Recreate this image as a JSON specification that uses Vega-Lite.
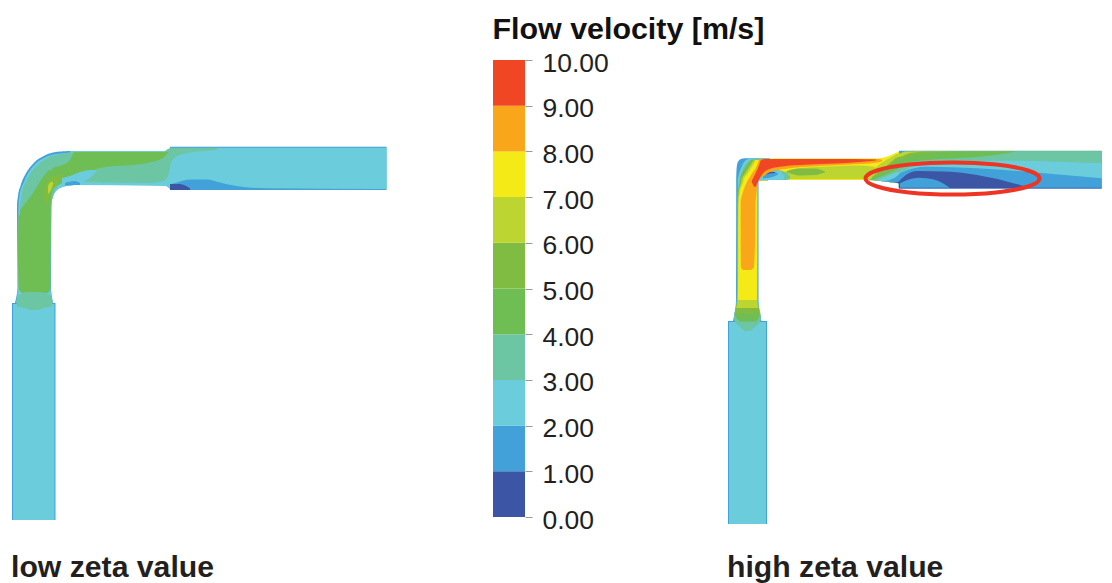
{"$schema":"https://vega.github.io/schema/vega-lite/v6.json","width":1112,"height":583,"autosize":{"type":"none"},"padding":0,"background":"white","config":{"view":{"stroke":null},"font":"Liberation Sans"},
"datasets":{
"vBase":[
{"r":"Li1","b":1,"y":303,"x":12,"x2":55.5},{"r":"Li1","b":1,"y":520,"x":12,"x2":55.5},
{"r":"Li2","b":2,"y":304,"x":13,"x2":54.5},{"r":"Li2","b":2,"y":520,"x":13,"x2":54.5},
{"r":"Lb1","b":1,"y":151,"x":70,"x2":80},{"r":"Lb1","b":1,"y":152,"x":56,"x2":80},{"r":"Lb1","b":1,"y":157,"x":42,"x2":80},{"r":"Lb1","b":1,"y":165,"x":32,"x2":80},{"r":"Lb1","b":1,"y":175,"x":25,"x2":80},{"r":"Lb1","b":1,"y":184,"x":21,"x2":80},{"r":"Lb1","b":1,"y":186,"x":20.5,"x2":66},{"r":"Lb1","b":1,"y":190,"x":19,"x2":57},{"r":"Lb1","b":1,"y":196,"x":18,"x2":53},{"r":"Lb1","b":1,"y":205,"x":17,"x2":51.5},{"r":"Lb1","b":1,"y":287,"x":17.5,"x2":51},{"r":"Lb1","b":1,"y":303,"x":15,"x2":53},
{"r":"Lb2","b":2,"y":152.5,"x":70,"x2":80},{"r":"Lb2","b":2,"y":154,"x":56,"x2":80},{"r":"Lb2","b":2,"y":158.5,"x":43,"x2":80},{"r":"Lb2","b":2,"y":166,"x":33.5,"x2":80},{"r":"Lb2","b":2,"y":176,"x":26.5,"x2":80},{"r":"Lb2","b":2,"y":184,"x":23,"x2":80},{"r":"Lb2","b":2,"y":186,"x":22,"x2":66},{"r":"Lb2","b":2,"y":190,"x":20.5,"x2":57},{"r":"Lb2","b":2,"y":196,"x":19.5,"x2":53},{"r":"Lb2","b":2,"y":205,"x":18.5,"x2":51},{"r":"Lb2","b":2,"y":287,"x":18,"x2":50.5},{"r":"Lb2","b":2,"y":303,"x":16,"x2":52.5},
{"r":"Hi1","b":1,"y":321,"x":728,"x2":767},{"r":"Hi1","b":1,"y":524,"x":728,"x2":767},
{"r":"Hi2","b":2,"y":322,"x":729,"x2":766},{"r":"Hi2","b":2,"y":524,"x":729,"x2":766},
{"r":"Hb1","b":1,"y":158.3,"x":745,"x2":770},{"r":"Hb1","b":1,"y":159,"x":741,"x2":770},{"r":"Hb1","b":1,"y":161,"x":738.5,"x2":770},{"r":"Hb1","b":1,"y":165,"x":737,"x2":770},{"r":"Hb1","b":1,"y":170,"x":736.5,"x2":770},{"r":"Hb1","b":1,"y":180,"x":736.2,"x2":770},{"r":"Hb1","b":1,"y":180.5,"x":736.2,"x2":758.5},{"r":"Hb1","b":1,"y":300,"x":736,"x2":758.5},{"r":"Hb1","b":1,"y":321,"x":733,"x2":761.5},
{"r":"Hb2","b":2,"y":158.5,"x":750,"x2":770},{"r":"Hb2","b":2,"y":160,"x":746,"x2":770},{"r":"Hb2","b":2,"y":166.7,"x":741.7,"x2":770},{"r":"Hb2","b":2,"y":176.7,"x":738.3,"x2":770},{"r":"Hb2","b":2,"y":180,"x":737.8,"x2":770},{"r":"Hb2","b":2,"y":180.5,"x":737.8,"x2":758},{"r":"Hb2","b":2,"y":300,"x":736.7,"x2":758},{"r":"Hb2","b":2,"y":320,"x":733.5,"x2":761}
],
"hBase":[
{"r":"Ln","b":2,"x":70,"y":151,"y2":185},{"r":"Ln","b":2,"x":165,"y":151,"y2":186},{"r":"Ln","b":2,"x":170,"y":148,"y2":189},
{"r":"LP1","b":1,"x":170,"y":146.7,"y2":190},{"r":"LP1","b":1,"x":386.5,"y":146.7,"y2":190},
{"r":"LP2","b":2,"x":170,"y":147.8,"y2":189},{"r":"LP2","b":2,"x":386.5,"y":147.8,"y2":189.3},
{"r":"Hn","b":7,"x":769,"y":158.5,"y2":180},{"r":"Hn","b":7,"x":873,"y":158.5,"y2":180},{"r":"Hn","b":7,"x":877,"y":158.5,"y2":180.5},{"r":"Hn","b":7,"x":899,"y":151.6,"y2":183.3},
{"r":"HP1","b":1,"x":899,"y":150.7,"y2":188.6},{"r":"HP1","b":1,"x":1101.7,"y":150.7,"y2":188.6}
],
"vOver":[
{"r":"Lg","b":4,"y":215,"x":18.5,"x2":50.5},{"r":"Lg","b":4,"y":250,"x":18,"x2":50.5},{"r":"Lg","b":4,"y":287,"x":18.5,"x2":50.5},{"r":"Lg","b":4,"y":290,"x":19,"x2":50},{"r":"Lg","b":4,"y":293,"x":22,"x2":48},
{"r":"Lt","b":3,"y":292,"x":26,"x2":42},{"r":"Lt","b":3,"y":296,"x":18,"x2":51},{"r":"Lt","b":3,"y":303,"x":16.5,"x2":52.5},{"r":"Lt","b":3,"y":306,"x":17,"x2":52},{"r":"Lt","b":3,"y":308,"x":24,"x2":44},{"r":"Lt","b":3,"y":310,"x":30,"x2":38},
{"r":"Hv3","b":3,"y":158.6,"x":756,"x2":770},{"r":"Hv3","b":3,"y":160,"x":750,"x2":770},{"r":"Hv3","b":3,"y":173,"x":741.5,"x2":770},{"r":"Hv3","b":3,"y":180,"x":739.5,"x2":770},{"r":"Hv3","b":3,"y":180.5,"x":739.5,"x2":757.8},{"r":"Hv3","b":3,"y":190,"x":738,"x2":757.8},{"r":"Hv3","b":3,"y":205,"x":737.3,"x2":757.8},{"r":"Hv3","b":3,"y":300,"x":737,"x2":757.8},{"r":"Hv3","b":3,"y":318,"x":734,"x2":761},{"r":"Hv3","b":3,"y":321,"x":734.5,"x2":760.5},{"r":"Hv3","b":3,"y":326,"x":739,"x2":756},{"r":"Hv3","b":3,"y":331,"x":745,"x2":750},
{"r":"Hv4","b":4,"y":160,"x":751,"x2":770},{"r":"Hv4","b":4,"y":173,"x":742.2,"x2":770},{"r":"Hv4","b":4,"y":180,"x":740,"x2":770},{"r":"Hv4","b":4,"y":180.5,"x":740,"x2":757.6},{"r":"Hv4","b":4,"y":190,"x":738.3,"x2":757.6},{"r":"Hv4","b":4,"y":205,"x":737.5,"x2":757.6},{"r":"Hv4","b":4,"y":300,"x":737.2,"x2":757.6},{"r":"Hv4","b":4,"y":315,"x":735,"x2":759.5},{"r":"Hv4","b":4,"y":321.5,"x":740,"x2":756},
{"r":"Hv5","b":5,"y":160,"x":752,"x2":770},{"r":"Hv5","b":5,"y":173,"x":743,"x2":770},{"r":"Hv5","b":5,"y":180,"x":740.5,"x2":770},{"r":"Hv5","b":5,"y":180.5,"x":740.5,"x2":757.5},{"r":"Hv5","b":5,"y":190,"x":738.5,"x2":757.5},{"r":"Hv5","b":5,"y":205,"x":737.7,"x2":757.5},{"r":"Hv5","b":5,"y":300,"x":737.4,"x2":757.4},{"r":"Hv5","b":5,"y":308,"x":736,"x2":758.5},{"r":"Hv5","b":5,"y":314,"x":735,"x2":759.5},
{"r":"Hv6","b":6,"y":160,"x":754,"x2":770},{"r":"Hv6","b":6,"y":173,"x":745.5,"x2":770},{"r":"Hv6","b":6,"y":180,"x":741.5,"x2":770},{"r":"Hv6","b":6,"y":180.5,"x":741.5,"x2":757.3},{"r":"Hv6","b":6,"y":190,"x":739,"x2":757.3},{"r":"Hv6","b":6,"y":205,"x":738,"x2":757.3},{"r":"Hv6","b":6,"y":300,"x":737.5,"x2":757.3},{"r":"Hv6","b":6,"y":308,"x":736.3,"x2":758.3},
{"r":"Hv7","b":7,"y":160,"x":756,"x2":770},{"r":"Hv7","b":7,"y":173,"x":748,"x2":770},{"r":"Hv7","b":7,"y":180,"x":743.5,"x2":770},{"r":"Hv7","b":7,"y":180.5,"x":743.5,"x2":757.2},{"r":"Hv7","b":7,"y":190,"x":740,"x2":757.2},{"r":"Hv7","b":7,"y":205,"x":738.5,"x2":757.2},{"r":"Hv7","b":7,"y":290,"x":738,"x2":757},{"r":"Hv7","b":7,"y":300,"x":737.8,"x2":756.8},
{"r":"Hv8","b":8,"y":159,"x":759,"x2":770},{"r":"Hv8","b":8,"y":170,"x":754.5,"x2":770},{"r":"Hv8","b":8,"y":172,"x":753,"x2":765},{"r":"Hv8","b":8,"y":176,"x":750.5,"x2":761},{"r":"Hv8","b":8,"y":180,"x":748,"x2":758.5},{"r":"Hv8","b":8,"y":192,"x":743,"x2":756.5},{"r":"Hv8","b":8,"y":203,"x":740.7,"x2":755.5},{"r":"Hv8","b":8,"y":240,"x":740.7,"x2":755},{"r":"Hv8","b":8,"y":267,"x":741,"x2":754},{"r":"Hv8","b":8,"y":270,"x":743,"x2":751}
],
"hOver":[
{"r":"Lte","b":3,"x":20,"y":208,"y2":208},{"r":"Lte","b":3,"x":22,"y":193,"y2":220},{"r":"Lte","b":3,"x":27,"y":180,"y2":220},{"r":"Lte","b":3,"x":40,"y":163,"y2":225},{"r":"Lte","b":3,"x":50,"y":157,"y2":205},{"r":"Lte","b":3,"x":56.7,"y":155,"y2":188},{"r":"Lte","b":3,"x":66,"y":153,"y2":180},{"r":"Lte","b":3,"x":75,"y":152,"y2":165},
{"r":"Lth","b":3,"x":75,"y":170,"y2":180},{"r":"Lth","b":3,"x":90,"y":165,"y2":182},{"r":"Lth","b":3,"x":147,"y":155,"y2":183},{"r":"Lth","b":3,"x":160,"y":155,"y2":182},{"r":"Lth","b":3,"x":165,"y":151,"y2":180},{"r":"Lth","b":3,"x":168,"y":149,"y2":176},{"r":"Lth","b":3,"x":172,"y":148,"y2":160},{"r":"Lth","b":3,"x":187,"y":148,"y2":153},{"r":"Lth","b":3,"x":217,"y":148,"y2":150},
{"r":"Lgr","b":4,"x":20,"y":210,"y2":250},{"r":"Lgr","b":4,"x":33,"y":193,"y2":250},{"r":"Lgr","b":4,"x":43,"y":177,"y2":250},{"r":"Lgr","b":4,"x":50.5,"y":170,"y2":250},{"r":"Lgr","b":4,"x":51,"y":170,"y2":200},{"r":"Lgr","b":4,"x":53,"y":168,"y2":189},{"r":"Lgr","b":4,"x":60,"y":166,"y2":184},{"r":"Lgr","b":4,"x":70,"y":160,"y2":179},{"r":"Lgr","b":4,"x":75,"y":152,"y2":177},{"r":"Lgr","b":4,"x":90,"y":152,"y2":172},{"r":"Lgr","b":4,"x":100,"y":152,"y2":168},{"r":"Lgr","b":4,"x":147,"y":152,"y2":163},{"r":"Lgr","b":4,"x":163,"y":152,"y2":158},{"r":"Lgr","b":4,"x":168,"y":152,"y2":153},
{"r":"Lp5","b":5,"x":44,"y":190,"y2":200},{"r":"Lp5","b":5,"x":47,"y":182,"y2":203},{"r":"Lp5","b":5,"x":52,"y":177,"y2":190},{"r":"Lp5","b":5,"x":58,"y":175,"y2":183},{"r":"Lp5","b":5,"x":63,"y":175,"y2":177},
{"r":"Lp6","b":6,"x":48,"y":186,"y2":194},{"r":"Lp6","b":6,"x":51,"y":182,"y2":190},{"r":"Lp6","b":6,"x":53,"y":182,"y2":184},
{"r":"Lc","b":2,"x":62,"y":178,"y2":185},{"r":"Lc","b":2,"x":70,"y":176,"y2":185},{"r":"Lc","b":2,"x":80,"y":172,"y2":183},{"r":"Lc","b":2,"x":90,"y":170,"y2":178},{"r":"Lc","b":2,"x":96,"y":170,"y2":172},
{"r":"Ls","b":1,"x":65,"y":183,"y2":185.5},{"r":"Ls","b":1,"x":75,"y":181,"y2":185},{"r":"Ls","b":1,"x":80,"y":183,"y2":185},
{"r":"Lbl","b":1,"x":170,"y":184.5,"y2":189},{"r":"Lbl","b":1,"x":180,"y":181.5,"y2":189},{"r":"Lbl","b":1,"x":190,"y":179.5,"y2":189},{"r":"Lbl","b":1,"x":207,"y":179.5,"y2":189},{"r":"Lbl","b":1,"x":217,"y":181.7,"y2":189},{"r":"Lbl","b":1,"x":227,"y":184.3,"y2":189},{"r":"Lbl","b":1,"x":240,"y":186.5,"y2":189},{"r":"Lbl","b":1,"x":267,"y":188.3,"y2":189},{"r":"Lbl","b":1,"x":386,"y":189,"y2":189.5},
{"r":"Lnv","b":0,"x":170,"y":184,"y2":190},{"r":"Lnv","b":0,"x":180,"y":184,"y2":190},{"r":"Lnv","b":0,"x":190,"y":188.5,"y2":190},
{"r":"Hl","b":6,"x":777,"y":175,"y2":179},{"r":"Hl","b":6,"x":790,"y":170,"y2":179},{"r":"Hl","b":6,"x":800,"y":168,"y2":179},{"r":"Hl","b":6,"x":830,"y":166.5,"y2":179},{"r":"Hl","b":6,"x":860,"y":165.5,"y2":179},{"r":"Hl","b":6,"x":875,"y":167,"y2":180},
{"r":"Hp5","b":5,"x":787,"y":171,"y2":172.5},{"r":"Hp5","b":5,"x":800,"y":168.5,"y2":175.5},{"r":"Hp5","b":5,"x":815,"y":168.5,"y2":175},{"r":"Hp5","b":5,"x":825,"y":171.5,"y2":172.5},
{"r":"Hc3","b":3,"x":760,"y":176,"y2":180},{"r":"Hc3","b":3,"x":765,"y":172,"y2":180},{"r":"Hc3","b":3,"x":775,"y":170,"y2":180},{"r":"Hc3","b":3,"x":785,"y":172,"y2":180},{"r":"Hc3","b":3,"x":790,"y":176,"y2":179},
{"r":"Hc2","b":2,"x":760,"y":177,"y2":180},{"r":"Hc2","b":2,"x":765,"y":173,"y2":180},{"r":"Hc2","b":2,"x":775,"y":171,"y2":180},{"r":"Hc2","b":2,"x":781,"y":172,"y2":180},{"r":"Hc2","b":2,"x":784,"y":176,"y2":179},
{"r":"Hc1","b":1,"x":763,"y":176,"y2":178.5},{"r":"Hc1","b":1,"x":768,"y":172.5,"y2":178},{"r":"Hc1","b":1,"x":775,"y":172,"y2":176},{"r":"Hc1","b":1,"x":778,"y":173.5,"y2":174.5},
{"r":"Hc0","b":0,"x":766,"y":173.5,"y2":174.5},{"r":"Hc0","b":0,"x":770,"y":171.8,"y2":173.5},{"r":"Hc0","b":0,"x":775,"y":172,"y2":173},
{"r":"Ho","b":8,"x":757,"y":165,"y2":178},{"r":"Ho","b":8,"x":762,"y":159.5,"y2":177},{"r":"Ho","b":8,"x":770,"y":159,"y2":172},{"r":"Ho","b":8,"x":785,"y":159,"y2":169},{"r":"Ho","b":8,"x":820,"y":159,"y2":166},{"r":"Ho","b":8,"x":860,"y":159,"y2":164},{"r":"Ho","b":8,"x":878,"y":159,"y2":162.5},{"r":"Ho","b":8,"x":882,"y":160,"y2":161},
{"r":"Hr","b":9,"x":751.7,"y":181,"y2":182},{"r":"Hr","b":9,"x":755,"y":174.5,"y2":187},{"r":"Hr","b":9,"x":758,"y":168,"y2":182},{"r":"Hr","b":9,"x":761.7,"y":159.5,"y2":175},{"r":"Hr","b":9,"x":767,"y":159,"y2":170},{"r":"Hr","b":9,"x":780,"y":159,"y2":166.7},{"r":"Hr","b":9,"x":820,"y":159,"y2":164},{"r":"Hr","b":9,"x":850,"y":159,"y2":162.7},{"r":"Hr","b":9,"x":876,"y":159.5,"y2":160.5},
{"r":"Hd6","b":6,"x":875,"y":168,"y2":180.3},{"r":"Hd6","b":6,"x":880,"y":164,"y2":181},{"r":"Hd6","b":6,"x":890,"y":158,"y2":182.2},{"r":"Hd6","b":6,"x":898.9,"y":153.5,"y2":183.3},{"r":"Hd6","b":6,"x":899,"y":153.5,"y2":188},{"r":"Hd6","b":6,"x":905,"y":151.5,"y2":188},{"r":"Hd6","b":6,"x":930,"y":151.3,"y2":188},{"r":"Hd6","b":6,"x":1101.7,"y":151.3,"y2":188},
{"r":"Hd5","b":5,"x":872,"y":177,"y2":180},{"r":"Hd5","b":5,"x":880,"y":171,"y2":181},{"r":"Hd5","b":5,"x":890,"y":163,"y2":182.2},{"r":"Hd5","b":5,"x":898.9,"y":157,"y2":183.3},{"r":"Hd5","b":5,"x":899,"y":157,"y2":188},{"r":"Hd5","b":5,"x":910,"y":153,"y2":188},{"r":"Hd5","b":5,"x":925,"y":151.5,"y2":188},{"r":"Hd5","b":5,"x":1101.7,"y":151.3,"y2":188},
{"r":"Hd4","b":4,"x":868,"y":180,"y2":180},{"r":"Hd4","b":4,"x":880,"y":174,"y2":181},{"r":"Hd4","b":4,"x":890,"y":167,"y2":182.2},{"r":"Hd4","b":4,"x":898.9,"y":160.5,"y2":183.3},{"r":"Hd4","b":4,"x":899,"y":160.5,"y2":188},{"r":"Hd4","b":4,"x":910,"y":156,"y2":188},{"r":"Hd4","b":4,"x":930,"y":153,"y2":188},{"r":"Hd4","b":4,"x":960,"y":151.3,"y2":188},{"r":"Hd4","b":4,"x":1101.7,"y":151.3,"y2":188},
{"r":"Hd3","b":3,"x":872,"y":180,"y2":180},{"r":"Hd3","b":3,"x":885,"y":175,"y2":181.6},{"r":"Hd3","b":3,"x":895,"y":170.5,"y2":182.8},{"r":"Hd3","b":3,"x":898.9,"y":168,"y2":183.3},{"r":"Hd3","b":3,"x":899,"y":167.5,"y2":188},{"r":"Hd3","b":3,"x":903,"y":163.5,"y2":188},{"r":"Hd3","b":3,"x":927,"y":160,"y2":188},{"r":"Hd3","b":3,"x":960,"y":158,"y2":188},{"r":"Hd3","b":3,"x":987,"y":156,"y2":188},{"r":"Hd3","b":3,"x":1010,"y":152.7,"y2":188},{"r":"Hd3","b":3,"x":1017,"y":151.3,"y2":188},{"r":"Hd3","b":3,"x":1101.7,"y":151.3,"y2":188},
{"r":"Hd2","b":2,"x":876,"y":180.5,"y2":180.5},{"r":"Hd2","b":2,"x":890,"y":175,"y2":182.2},{"r":"Hd2","b":2,"x":898.9,"y":172,"y2":183.3},{"r":"Hd2","b":2,"x":899,"y":172,"y2":188},{"r":"Hd2","b":2,"x":917,"y":164.5,"y2":188},{"r":"Hd2","b":2,"x":960,"y":161,"y2":188},{"r":"Hd2","b":2,"x":1010,"y":160.7,"y2":188},{"r":"Hd2","b":2,"x":1101.7,"y":163.3,"y2":188},
{"r":"Hd1","b":1,"x":884,"y":181.5,"y2":181.5},{"r":"Hd1","b":1,"x":898.9,"y":174.5,"y2":183.3},{"r":"Hd1","b":1,"x":899,"y":174,"y2":188},{"r":"Hd1","b":1,"x":903,"y":171.7,"y2":188},{"r":"Hd1","b":1,"x":927,"y":166.7,"y2":188},{"r":"Hd1","b":1,"x":977,"y":168.3,"y2":188},{"r":"Hd1","b":1,"x":1027,"y":171.7,"y2":188},{"r":"Hd1","b":1,"x":1101.7,"y":178.3,"y2":188},
{"r":"Hd0","b":0,"x":893,"y":182.6,"y2":182.6},{"r":"Hd0","b":0,"x":898.9,"y":181.7,"y2":183.3},{"r":"Hd0","b":0,"x":899,"y":181.5,"y2":188},{"r":"Hd0","b":0,"x":917,"y":171,"y2":188},{"r":"Hd0","b":0,"x":950,"y":171.7,"y2":188},{"r":"Hd0","b":0,"x":977,"y":175,"y2":188},{"r":"Hd0","b":0,"x":1020,"y":185,"y2":188},{"r":"Hd0","b":0,"x":1030,"y":188,"y2":188},
{"r":"Hdp","b":1,"x":900,"y":183.3,"y2":188},{"r":"Hdp","b":1,"x":903,"y":181.7,"y2":188},{"r":"Hdp","b":1,"x":920,"y":177.7,"y2":188},{"r":"Hdp","b":1,"x":933,"y":179.3,"y2":188},{"r":"Hdp","b":1,"x":943,"y":183.3,"y2":188},{"r":"Hdp","b":1,"x":950,"y":188,"y2":188},
{"r":"Hbt","b":0,"x":899,"y":187.7,"y2":188.6},{"r":"Hbt","b":0,"x":1101.7,"y":187.7,"y2":188.6}
]},
"data":{"values":[{"lo":0,"hi":1,"b":0}]},
"encoding":{"x":{"field":"x","type":"quantitative","scale":{"domain":[0,1112],"nice":false,"zero":false},"axis":null}},
"resolve":{"scale":{"y":"independent"},"axis":{"y":"independent"}},
"layer":[
{"encoding":{"y":{"field":"y","type":"quantitative","scale":{"domain":[583,0],"nice":false,"zero":false},"axis":null}},
"layer":[
{"data":{"name":"vBase"},"mark":{"type":"area","orient":"horizontal","interpolate":"monotone"},"encoding":{"x2":{"field":"x2"},"color":{"field":"b","type":"ordinal","scale":{"domain":[0,1,2,3,4,5,6,7,8,9],"range":["#3c55a5","#41a1d8","#6bccdc","#6cc5a3","#6fbe54","#80bc41","#bcd531","#f4ea17","#faa61a","#f04623"]},"legend":null},"detail":{"field":"r"}}},
{"data":{"name":"hBase"},"mark":{"type":"area","orient":"vertical","interpolate":"monotone"},"encoding":{"y2":{"field":"y2"},"color":{"field":"b","type":"ordinal","legend":null},"detail":{"field":"r"}}},
{"data":{"name":"vOver"},"mark":{"type":"area","orient":"horizontal","interpolate":"monotone"},"encoding":{"x2":{"field":"x2"},"color":{"field":"b","type":"ordinal","legend":null},"detail":{"field":"r"}}},
{"data":{"name":"hOver"},"mark":{"type":"area","orient":"vertical","interpolate":"monotone"},"encoding":{"y2":{"field":"y2"},"color":{"field":"b","type":"ordinal","legend":null},"detail":{"field":"r"}}},
{"data":{"values":[{"i":0,"x":1039.5,"y":178.5},{"i":1,"x":1028,"y":186.5},{"i":2,"x":996,"y":192.4},{"i":3,"x":952.5,"y":194.5},{"i":4,"x":909,"y":192.4},{"i":5,"x":877,"y":186.5},{"i":6,"x":865.5,"y":178.5},{"i":7,"x":877,"y":170.5},{"i":8,"x":909,"y":164.6},{"i":9,"x":952.5,"y":162.5},{"i":10,"x":996,"y":164.6},{"i":11,"x":1028,"y":170.5}]},"mark":{"type":"line","interpolate":"cardinal-closed","color":"#ee3524","strokeWidth":4},"encoding":{"order":{"field":"i"}}},
{"data":{"values":[{"label":"low zeta value","x":11,"y":577},{"label":"high zeta value","x":727,"y":577}]},"mark":{"type":"text","align":"left","baseline":"alphabetic","font":"Liberation Sans","fontWeight":"bold","fontSize":30.2,"color":"#231f20"},"encoding":{"text":{"field":"label"}}}
]},
{"data":{"values":[{"lo":0,"hi":1,"b":0,"x":493,"x2":525},{"lo":1,"hi":2,"b":1,"x":493,"x2":525},{"lo":2,"hi":3,"b":2,"x":493,"x2":525},{"lo":3,"hi":4,"b":3,"x":493,"x2":525},{"lo":4,"hi":5,"b":4,"x":493,"x2":525},{"lo":5,"hi":6,"b":5,"x":493,"x2":525},{"lo":6,"hi":7,"b":6,"x":493,"x2":525},{"lo":7,"hi":8,"b":7,"x":493,"x2":525},{"lo":8,"hi":9,"b":8,"x":493,"x2":525},{"lo":9,"hi":10,"b":9,"x":493,"x2":525}]},
"mark":{"type":"rect"},
"encoding":{"x2":{"field":"x2"},
"y":{"field":"lo","type":"quantitative","scale":{"domain":[-1.444,11.313],"nice":false,"zero":false},"axis":{"orient":"right","offset":-587,"values":[0,1,2,3,4,5,6,7,8,9,10],"format":".2f","domain":false,"grid":false,"ticks":true,"tickColor":"#999999","tickSize":7,"labelPadding":10,"labelOffset":3,"labelFont":"Liberation Sans","labelFontSize":26.5,"labelColor":"#231f20","title":"Flow velocity [m/s]","titleAngle":0,"titleAlign":"left","titleBaseline":"alphabetic","titleFont":"Liberation Sans","titleFontSize":30.4,"titleFontWeight":"bold","titleColor":"#111111","titleX":-33,"titleY":38}},
"y2":{"field":"hi"},
"color":{"field":"b","type":"ordinal","legend":null}}}
]}
